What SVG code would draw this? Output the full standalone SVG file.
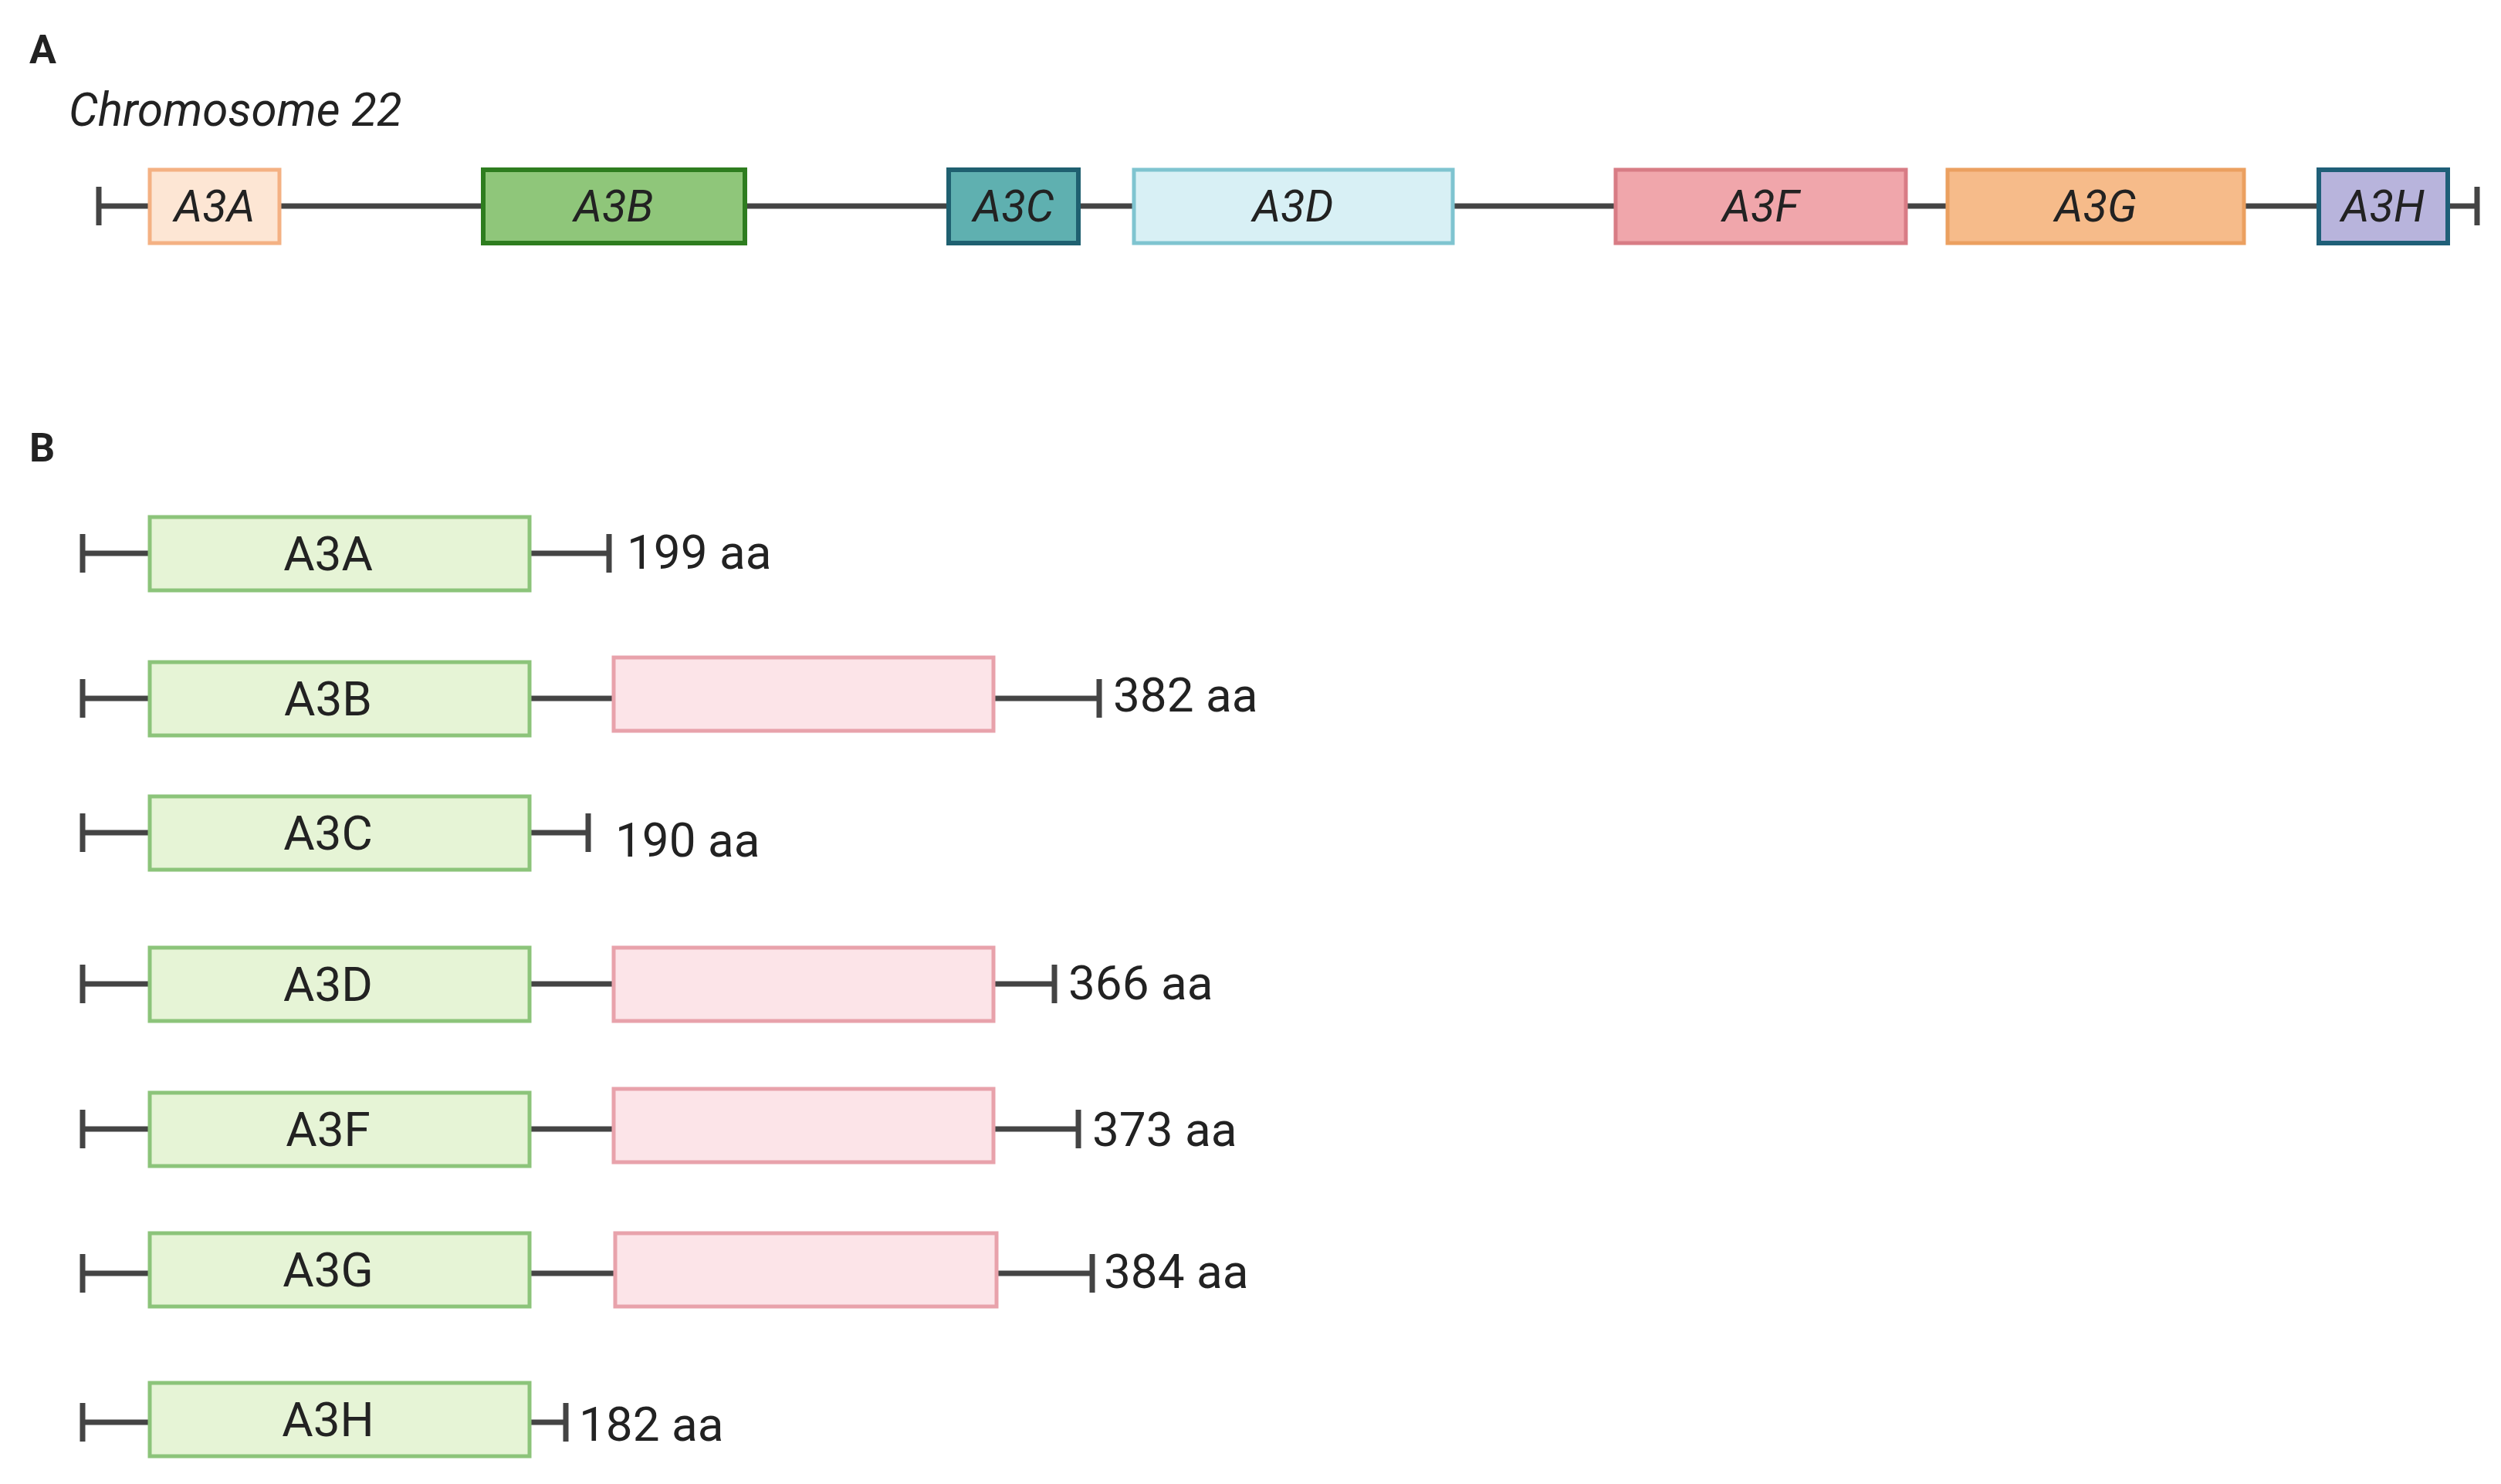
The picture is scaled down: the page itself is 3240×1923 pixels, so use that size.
<svg xmlns="http://www.w3.org/2000/svg" width="3240" height="1923" viewBox="0 0 3240 1923">
<style>
text{font-family:Roboto,"Liberation Sans",sans-serif;fill:#222}
.g{font-style:italic;font-size:58px;text-anchor:middle;dominant-baseline:central}
.ln{stroke:#444;stroke-width:7;fill:none}
.dom{fill:#e6f4d6;stroke:#8cc47a;stroke-width:5}
.cd{fill:#fce4e8;stroke:#e8a2ab;stroke-width:5}
.lb{font-size:62px;text-anchor:middle;dominant-baseline:central}
.aa{font-size:62px;dominant-baseline:central}
.h{font-weight:bold;font-size:52px}
</style>
<rect width="3240" height="1923" fill="#fff"/>
<text class="h" x="38" y="82">A</text>
<text x="89" y="163" font-size="60" font-style="italic">Chromosome 22</text>
<g id="connectors">
<path class="ln" d="M128 267H3209M128 242V292M3209 242V292"/>
<path class="ln" d="M107 717H789M107 692V742M789 692V742"/>
<path class="ln" d="M107 905H1424M107 880V930M1424 880V930"/>
<path class="ln" d="M107 1079H762M107 1054V1104M762 1054V1104"/>
<path class="ln" d="M107 1275H1366M107 1250V1300M1366 1250V1300"/>
<path class="ln" d="M107 1463H1397M107 1438V1488M1397 1438V1488"/>
<path class="ln" d="M107 1650H1415M107 1625V1675M1415 1625V1675"/>
<path class="ln" d="M107 1843H733M107 1818V1868M733 1818V1868"/>
</g>
<g id="A3A"><rect x="194" y="220" width="168" height="95" fill="#fde6d4" stroke="#f4b183" stroke-width="5"/><text class="g" x="278" y="267">A3A</text></g>
<g id="A3B"><rect x="626" y="220" width="339" height="95" fill="#8fc67a" stroke="#2e7d1f" stroke-width="6"/><text class="g" x="795" y="267">A3B</text></g>
<g id="A3C"><rect x="1229" y="220" width="168" height="95" fill="#5fb0b0" stroke="#1f6070" stroke-width="6"/><text class="g" x="1313" y="267">A3C</text></g>
<g id="A3D"><rect x="1469" y="220" width="413" height="95" fill="#d8f0f5" stroke="#7fc4d0" stroke-width="5"/><text class="g" x="1675" y="267">A3D</text></g>
<g id="A3F"><rect x="2093" y="220" width="376" height="95" fill="#f0a6ab" stroke="#d87c85" stroke-width="5"/><text class="g" x="2281" y="267">A3F</text></g>
<g id="A3G"><rect x="2523" y="220" width="384" height="95" fill="#f6bb8a" stroke="#eba060" stroke-width="5"/><text class="g" x="2715" y="267">A3G</text></g>
<g id="A3H"><rect x="3004" y="220" width="167" height="95" fill="#b8b4dc" stroke="#1f5f78" stroke-width="6"/><text class="g" x="3087" y="267">A3H</text></g>
<text class="h" x="38" y="598">B</text>
<g id="pA3A"><rect class="dom" x="194" y="670" width="492" height="95"/><text class="lb" x="425" y="717">A3A</text><text class="aa" x="812" y="715">199 aa</text></g>
<g id="pA3B"><rect class="dom" x="194" y="858" width="492" height="95"/><text class="lb" x="425" y="905">A3B</text><rect class="cd" x="795" y="852" width="492" height="95"/><text class="aa" x="1442" y="900">382 aa</text></g>
<g id="pA3C"><rect class="dom" x="194" y="1032" width="492" height="95"/><text class="lb" x="425" y="1079">A3C</text><text class="aa" x="797" y="1088">190 aa</text></g>
<g id="pA3D"><rect class="dom" x="194" y="1228" width="492" height="95"/><text class="lb" x="425" y="1275">A3D</text><rect class="cd" x="795" y="1228" width="492" height="95"/><text class="aa" x="1384" y="1273">366 aa</text></g>
<g id="pA3F"><rect class="dom" x="194" y="1416" width="492" height="95"/><text class="lb" x="425" y="1463">A3F</text><rect class="cd" x="795" y="1411" width="492" height="95"/><text class="aa" x="1415" y="1463">373 aa</text></g>
<g id="pA3G"><rect class="dom" x="194" y="1598" width="492" height="95"/><text class="lb" x="425" y="1645">A3G</text><rect class="cd" x="797" y="1598" width="494" height="95"/><text class="aa" x="1430" y="1647">384 aa</text></g>
<g id="pA3H"><rect class="dom" x="194" y="1792" width="492" height="95"/><text class="lb" x="425" y="1839">A3H</text><text class="aa" x="750" y="1845">182 aa</text></g>
</svg>
